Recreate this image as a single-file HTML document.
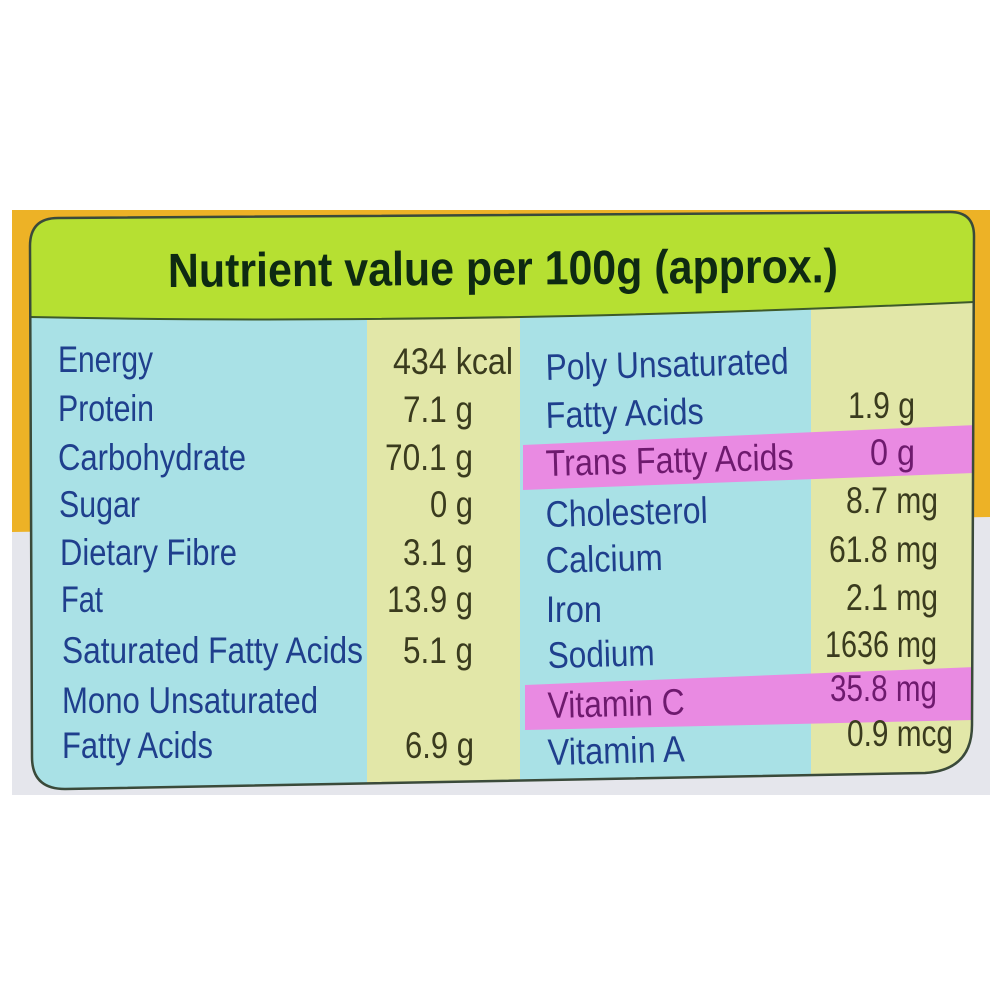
<!DOCTYPE html>
<html>
<head>
<meta charset="utf-8">
<style>
html,body{margin:0;padding:0;background:#ffffff;}
svg{display:block;}
text{font-family:"Liberation Sans",Arial,sans-serif;}
</style>
</head>
<body>
<svg width="1000" height="1000" viewBox="0 0 1000 1000" xmlns="http://www.w3.org/2000/svg">
  <defs>
    <clipPath id="card">
      <path d="M58,218 L950,212 Q974,212 974,236 L972,725 Q972,770 925,773 L65,789 Q32,789 32,757 L30,246 Q30,218 58,218 Z"/>
    </clipPath>
  </defs>
  <rect x="0" y="0" width="1000" height="1000" fill="#ffffff"/>
  <!-- outer background -->
  <rect x="12" y="500" width="978" height="295" fill="#e5e6ec"/>
  <polygon points="12,210 990,210 990,517 12,532" fill="#edb226"/>

  <!-- card fills -->
  <g clip-path="url(#card)">
    <rect x="0" y="200" width="1000" height="600" fill="#a9e1e6"/>
    <rect x="367" y="200" width="153" height="600" fill="#e2e7a8"/>
    <rect x="811" y="200" width="170" height="600" fill="#e2e7a8"/>
    <path d="M0,200 L1000,200 L1000,302 L974,302 Q450,326 30,317 L0,317 Z" fill="#b6e032"/>
    <polygon points="523,445 975,425 975,473 523,490" fill="#e98ae2"/>
    <polygon points="525,685 975,667 975,720 525,730" fill="#e98ae2"/>
  </g>
  <path d="M30,317 Q450,326 974,302" fill="none" stroke="#3d5a2a" stroke-width="2"/>
  <path d="M58,218 L950,212 Q974,212 974,236 L972,725 Q972,770 925,773 L65,789 Q32,789 32,757 L30,246 Q30,218 58,218 Z" fill="none" stroke="#3a4a3a" stroke-width="2.5"/>

  <!-- title -->
  <text x="168" y="287" font-size="48" font-weight="bold" fill="#0e2a12" textLength="670" lengthAdjust="spacingAndGlyphs" transform="rotate(-0.4 168 287)">Nutrient value per 100g (approx.)</text>

  <!-- left labels -->
  <g font-size="37" fill="#1f3f8d">
    <text x="58" y="372" textLength="95" lengthAdjust="spacingAndGlyphs">Energy</text>
    <text x="58" y="421" textLength="96" lengthAdjust="spacingAndGlyphs">Protein</text>
    <text x="58" y="470" textLength="188" lengthAdjust="spacingAndGlyphs">Carbohydrate</text>
    <text x="59" y="517" textLength="81" lengthAdjust="spacingAndGlyphs">Sugar</text>
    <text x="60" y="565" textLength="177" lengthAdjust="spacingAndGlyphs">Dietary Fibre</text>
    <text x="61" y="612" textLength="42" lengthAdjust="spacingAndGlyphs">Fat</text>
    <text x="62" y="663" textLength="301" lengthAdjust="spacingAndGlyphs">Saturated Fatty Acids</text>
    <text x="62" y="713" textLength="256" lengthAdjust="spacingAndGlyphs">Mono Unsaturated</text>
    <text x="62" y="758" textLength="151" lengthAdjust="spacingAndGlyphs">Fatty Acids</text>
  </g>

  <!-- left values -->
  <g font-size="37" fill="#3a3b1e">
    <text x="393" y="374" textLength="120" lengthAdjust="spacingAndGlyphs">434 kcal</text>
    <text x="403" y="422" textLength="70" lengthAdjust="spacingAndGlyphs">7.1 g</text>
    <text x="385" y="470" textLength="88" lengthAdjust="spacingAndGlyphs">70.1 g</text>
    <text x="430" y="517" textLength="43" lengthAdjust="spacingAndGlyphs">0 g</text>
    <text x="403" y="565" textLength="70" lengthAdjust="spacingAndGlyphs">3.1 g</text>
    <text x="387" y="612" textLength="86" lengthAdjust="spacingAndGlyphs">13.9 g</text>
    <text x="403" y="663" textLength="70" lengthAdjust="spacingAndGlyphs">5.1 g</text>
    <text x="405" y="758" textLength="69" lengthAdjust="spacingAndGlyphs">6.9 g</text>
  </g>

  <!-- right labels -->
  <g font-size="37" fill="#1f3f8d">
    <text x="546" y="380" textLength="243" lengthAdjust="spacingAndGlyphs" transform="rotate(-1.5 546 380)">Poly Unsaturated</text>
    <text x="546" y="428" textLength="158" lengthAdjust="spacingAndGlyphs" transform="rotate(-1.5 546 428)">Fatty Acids</text>
    <text x="546" y="476" textLength="248" lengthAdjust="spacingAndGlyphs" fill="#6e1a6e" transform="rotate(-1.5 546 476)">Trans Fatty Acids</text>
    <text x="546" y="527" textLength="162" lengthAdjust="spacingAndGlyphs" transform="rotate(-1.5 546 527)">Cholesterol</text>
    <text x="546" y="573" textLength="117" lengthAdjust="spacingAndGlyphs" transform="rotate(-1.5 546 573)">Calcium</text>
    <text x="546" y="622" textLength="56" lengthAdjust="spacingAndGlyphs">Iron</text>
    <text x="548" y="668" textLength="107" lengthAdjust="spacingAndGlyphs" transform="rotate(-1.5 548 668)">Sodium</text>
    <text x="548" y="718" textLength="137" lengthAdjust="spacingAndGlyphs" fill="#6e1a6e" transform="rotate(-1.5 548 718)">Vitamin C</text>
    <text x="548" y="765" textLength="137" lengthAdjust="spacingAndGlyphs" transform="rotate(-1.5 548 765)">Vitamin A</text>
  </g>

  <!-- right values -->
  <g font-size="37" fill="#3a3b1e">
    <text x="848" y="418" textLength="67" lengthAdjust="spacingAndGlyphs">1.9 g</text>
    <text x="870" y="465" textLength="45" lengthAdjust="spacingAndGlyphs" fill="#6e1a6e">0 g</text>
    <text x="846" y="513" textLength="92" lengthAdjust="spacingAndGlyphs">8.7 mg</text>
    <text x="829" y="562" textLength="109" lengthAdjust="spacingAndGlyphs">61.8 mg</text>
    <text x="846" y="610" textLength="92" lengthAdjust="spacingAndGlyphs">2.1 mg</text>
    <text x="825" y="657" textLength="112" lengthAdjust="spacingAndGlyphs">1636 mg</text>
    <text x="830" y="701" textLength="107" lengthAdjust="spacingAndGlyphs" fill="#6e1a6e">35.8 mg</text>
    <text x="847" y="746" textLength="106" lengthAdjust="spacingAndGlyphs">0.9 mcg</text>
  </g>
</svg>
</body>
</html>
